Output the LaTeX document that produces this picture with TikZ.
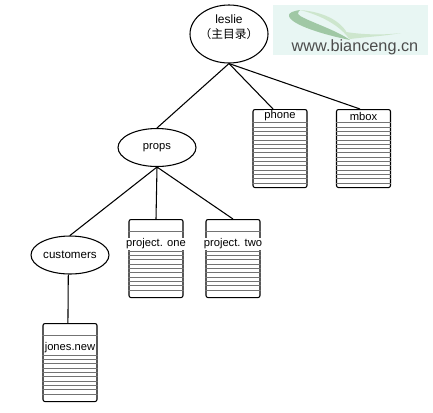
\documentclass[tikz,border=0pt]{standalone}
\usepackage{fontspec}
\setmainfont{Liberation Sans}
\newfontfamily\cjkfont{Noto Sans CJK SC}
\usetikzlibrary{shapes.geometric,calc}
\definecolor{sitebg}{RGB}{232,246,243}
\definecolor{sitedark}{RGB}{160,200,165}
\definecolor{sitelight}{RGB}{205,230,205}
\tikzset{dirnode/.style={draw,ellipse,line width=.8pt,inner sep=0pt},
         filebody/.style={draw,rounded corners=1.5pt,line width=.8pt,minimum width=40.5pt,minimum height=58.5pt,inner sep=0pt},
         fileline/.style={line width=.25pt,black!55},
         filelabel/.style={fill=white,inner sep=.6pt,font=\fontsize{8.4}{10}\selectfont},
         link/.style={line width=.8pt}}
% file box: name, centre x, top y, text, text y, ruled lines
\newcommand{\filebox}[6]{
  \node[filebody,anchor=north] (#1) at (#2,#3) {};
  \foreach \ly in {#6}
    \draw[fileline] ($(#1.north west)+(0,\ly)$)--($(#1.north east)+(0,\ly)$);
  \node[filelabel] (#1-label) at ($(#1.north)+(0,#5)$) {#4};
}
\begin{document}
\begin{tikzpicture}[x=.75pt,y=-.75pt]
  \useasboundingbox (0,0) rectangle (433,412);
  % site mark
  \fill[sitebg] (273,5) rectangle (428,55);
  \fill[sitelight] (300,10) .. controls (325,12) and (345,22) .. (350,40)
    .. controls (340,25) and (320,15) .. (300,10);
  \fill[sitelight] (346,32) .. controls (365,35) and (385,35) .. (401,33)
    .. controls (385,36) and (365,37) .. (350,39) -- cycle;
  \fill[sitedark] (300,10) .. controls (293,11) and (288,13) .. (289,16)
    .. controls (291,25) and (325,35) .. (350,40)
    .. controls (335,29) and (301,19) .. (298,14) .. controls (298,12) and (299,11) .. (300,10);
  \node[text=black!70,inner sep=0pt,font=\fontsize{12.2}{14}\selectfont] (site) at (355,47) {www.bianceng.cn};

  % directories
  \node[dirnode,minimum width=58.5pt,minimum height=43.5pt] (leslie) at (229,34) {};
  \node[inner sep=0pt,align=center,font=\fontsize{9}{11.5}\selectfont] (leslie-text) at (229,27)
    {leslie\\{\cjkfont\fontsize{8.8}{11.5}\selectfont （主目录）}};
  \node[dirnode,minimum width=58.5pt,minimum height=28.5pt,font=\fontsize{8.4}{10}\selectfont] (props) at (157,147.5) {props};
  \node[dirnode,minimum width=58.5pt,minimum height=28.5pt,font=\fontsize{8.7}{10}\selectfont] (customers) at (70,255) {customers};

  % files
  \filebox{phone}{280}{109}{phone}{7}{13.5,17.8,...,75}
  \filebox{mbox}{363.5}{109}{mbox}{7}{13.5,17.8,...,75}
  \filebox{one}{156}{219}{project. one}{25}{12,32,36.3,...,75}
  \filebox{two}{233}{219}{project. two}{25}{12,32,36.3,...,75}
  \filebox{jones}{70}{323}{jones.new}{24.5}{12,32,36.3,...,75}

  \draw[link] (leslie.south)--(props.north);
  \draw[link] (leslie.south)--(phone.100);
  \draw[link] (leslie.south)--(mbox.95);
  \draw[link] (props.south)--(customers.north);
  \draw[link] (props.south)--(one.north);
  \draw[link] (props.south)--(two.north);
  \draw[link] (customers.265)--(jones.93);
\end{tikzpicture}
\end{document}
